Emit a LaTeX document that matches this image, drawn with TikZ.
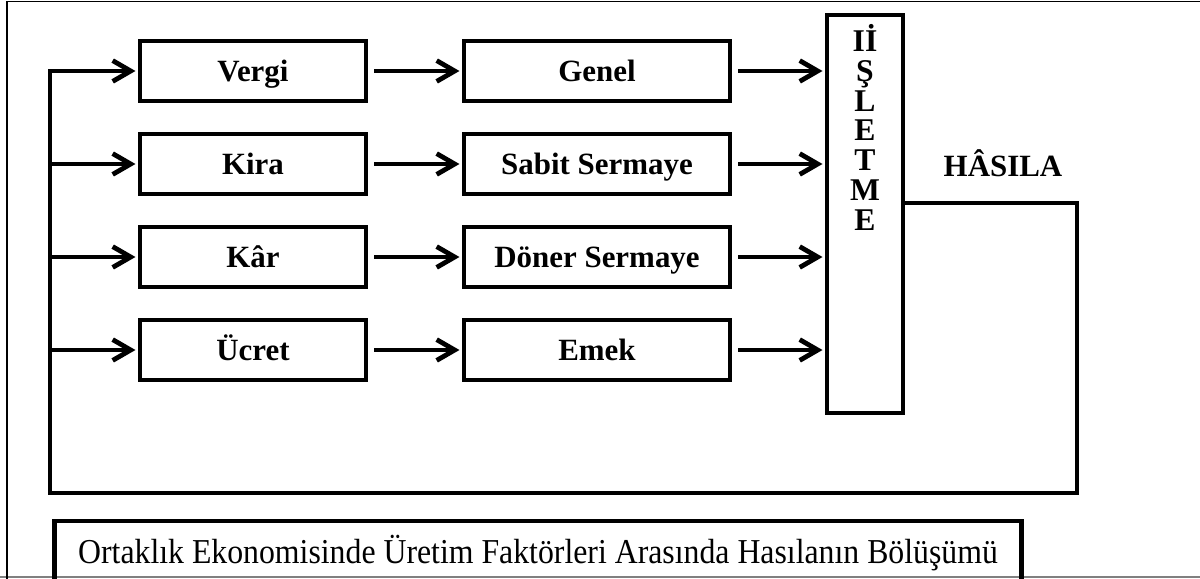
\documentclass[tikz,border=0pt]{standalone}
\usepackage{fontspec}
\setmainfont{Liberation Serif}
\usetikzlibrary{arrows.meta}
\usetikzlibrary{positioning}

\begin{document}
\begin{tikzpicture}[x=0.025cm,y=-0.025cm,
    kutu/.style={draw,line width=3.4pt,minimum height=1.5cm,inner sep=0pt,
      text height=16pt,text depth=1.4pt,
      font=\fontsize{22}{22}\selectfont\bfseries},
    akis/.style={line width=3.4pt,shorten <=4pt,shorten >=1.5pt,
      -{Straight Barb[length=4.5mm,width=5.2mm]}},
    hat/.style={line width=3.4pt}]
    \def\solx{253}
    \def\ortax{597}
    \useasboundingbox (0,0) rectangle (1200,578);
    \clip (0,0) rectangle (1200,578);

    % FRAME
    \draw[gray,line width=1pt] (0,577) -- (1200,577);
    \draw[line width=1.4pt] (7,590) -- (7,1.5) -- (1200,1.5);

    % FACTORS
    \node[kutu,minimum width=5.65cm] (vergi) at (\solx,71) {Vergi};
    \node[kutu,minimum width=5.65cm] (kira) at (\solx,164) {Kira};
    \node[kutu,minimum width=5.65cm] (kar) at (\solx,257) {Kâr};
    \node[kutu,minimum width=5.65cm] (ucret) at (\solx,350) {Ücret};
    \node[kutu,minimum width=6.65cm] (genel) at (\ortax,71) {Genel};
    \node[kutu,minimum width=6.65cm] (sabit) at (\ortax,164) {Sabit Sermaye};
    \node[kutu,minimum width=6.65cm] (doner) at (\ortax,257) {Döner Sermaye};
    \node[kutu,minimum width=6.65cm] (emek) at (\ortax,350) {Emek};

    % ISLETME
    \node[draw,line width=3.4pt,minimum width=1.9cm,minimum height=9.95cm] (isletme) at (865,214) {};
    \node[anchor=north,inner sep=0pt,align=center,
      font=\fontsize{22.5}{21.2}\selectfont\bfseries] (harfler) at (865,24)
      {Iİ\\Ş\\L\\E\\T\\M\\E};
    \node[font=\fontsize{22}{22}\selectfont\bfseries] (hasila) at (1003,163) {HÂSILA};

    % RETURN LINE
    \coordinate (sag) at (1077,203);
    \coordinate (altsag) at (1077,493);
    \coordinate (altsol) at (50,493);
    \coordinate (ustsol) at (50,71);
    \draw[hat,shorten >=1.5pt,-{Straight Barb[length=4.5mm,width=5.2mm]}]
      (isletme.east |- sag) -- (sag) -- (altsag) -- (altsol) -- (ustsol) -- (vergi);
    \draw[akis,shorten <=0pt] (ustsol |- kira) -- (kira);
    \draw[akis,shorten <=0pt] (ustsol |- kar) -- (kar);
    \draw[akis,shorten <=0pt] (ustsol |- ucret) -- (ucret);

    % ARROWS
    \draw[akis] (vergi) -- (genel);
    \draw[akis] (kira) -- (sabit);
    \draw[akis] (kar) -- (doner);
    \draw[akis] (ucret) -- (emek);
    \draw[akis] (genel) -- (genel -| isletme.west);
    \draw[akis] (sabit) -- (sabit -| isletme.west);
    \draw[akis] (doner) -- (doner -| isletme.west);
    \draw[akis] (emek) -- (emek -| isletme.west);

    % CAPTION
    \node[draw,line width=3.4pt,minimum width=24.15cm,minimum height=1.6cm,inner sep=0pt,
      font=\fontsize{22.6}{22.6}\selectfont] (baslik) at (538,553)
      {\scalebox{1.0}[1.1]{Ortaklık Ekonomisinde Üretim Faktörleri Arasında Hasılanın Bölüşümü}};
\end{tikzpicture}
\end{document}
